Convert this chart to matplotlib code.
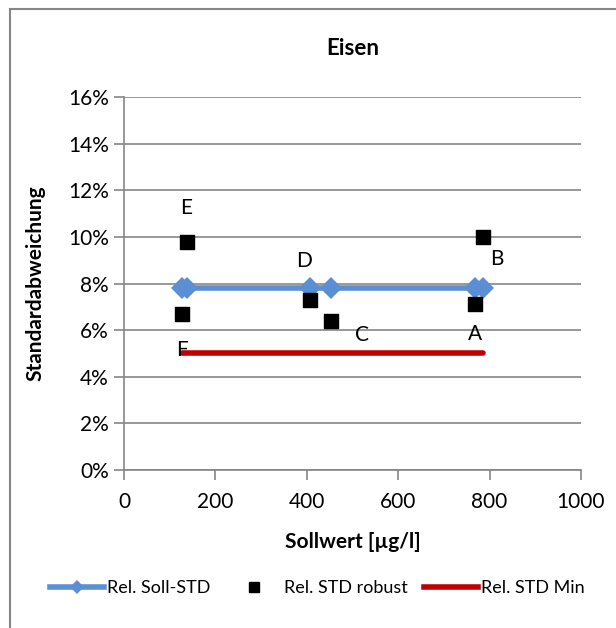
import matplotlib.pyplot as plt
from matplotlib.lines import Line2D
from matplotlib.patches import Rectangle
from matplotlib.ticker import PercentFormatter

plt.rcParams['font.family'] = ['Lato', 'DejaVu Sans']

# Sollwerte der Proben A-F
labels = ['F', 'E', 'D', 'C', 'A', 'B']
sollwert = [127, 137, 406, 454, 768, 786]
# relative Standardabweichungen (Anteil)
rel_soll_std = [0.078, 0.078, 0.078, 0.078, 0.078, 0.078]
rel_std_robust = [0.067, 0.098, 0.073, 0.064, 0.071, 0.100]
rel_std_min = [0.05, 0.05, 0.05, 0.05, 0.05, 0.05]

# Versatz der Beschriftungen in Punkten
label_offsets = {'F': (0, -26), 'E': (0, 24), 'D': (-4, 28), 'C': (22, -10),
                 'A': (0, -21), 'B': (10, -16)}

grey = '#868686'
fig = plt.figure(figsize=(6.16, 6.28), dpi=100)
ax = fig.add_axes([0.2013, 0.2516, 0.7419, 0.5939])

ax.plot(sollwert, rel_soll_std, color='#5B8FD4', lw=4, marker='D', ms=11,
        markeredgewidth=0, zorder=3, solid_capstyle='round')
ax.plot(sollwert, rel_std_min, color='#C00000', lw=4, zorder=2,
        solid_capstyle='round')
ax.scatter(sollwert, rel_std_robust, marker='s', s=110, color='black', zorder=4)

for x, y, lab in zip(sollwert, rel_std_robust, labels):
    ax.annotate(lab, (x, y), xytext=label_offsets[lab], textcoords='offset points',
                ha='center', va='center', fontsize=15)

ax.set_xlim(0, 1000)
ax.set_ylim(0, 0.16)
ax.set_xticks(range(0, 1001, 200))
ax.set_yticks([i * 0.02 for i in range(9)])
ax.yaxis.set_major_formatter(PercentFormatter(1.0, decimals=0))
ax.grid(axis='y', color=grey, lw=1.2)
ax.set_axisbelow(True)
for side in ['top', 'right']:
    ax.spines[side].set_visible(False)
for side in ['left', 'bottom']:
    ax.spines[side].set_color(grey)
    ax.spines[side].set_linewidth(1.2)
ax.tick_params(axis='both', colors=grey, labelcolor='black', labelsize=15,
               length=7, width=1.2, direction='out')
ax.tick_params(axis='x', pad=9)
ax.tick_params(axis='y', pad=4)

ax.set_title('Eisen', fontsize=16, fontweight='bold', pad=30)
ax.set_xlabel('Sollwert [µg/l]', fontsize=15, fontweight='bold', labelpad=14)
ax.set_ylabel('Standardabweichung', fontsize=15, fontweight='bold', labelpad=16)

handles = [
    Line2D([], [], color='#5B8FD4', lw=4, marker='D', ms=7, markeredgewidth=0),
    Line2D([], [], color='black', lw=0, marker='s', ms=7),
    Line2D([], [], color='#C00000', lw=4),
]
fig.legend(handles, ['Rel. Soll-STD', 'Rel. STD robust', 'Rel. STD Min'],
           loc='center', bbox_to_anchor=(0.515, 0.063), ncol=3, frameon=False,
           fontsize=13, handlelength=3.0, handletextpad=0.15, columnspacing=0.9)

fig.patches.append(Rectangle((10 / 616, -0.1), 1.2, 1 - 9 / 628 + 0.1,
                             transform=fig.transFigure, fill=False,
                             edgecolor=grey, lw=1.5))

fig.savefig('out.png', dpi=100)
